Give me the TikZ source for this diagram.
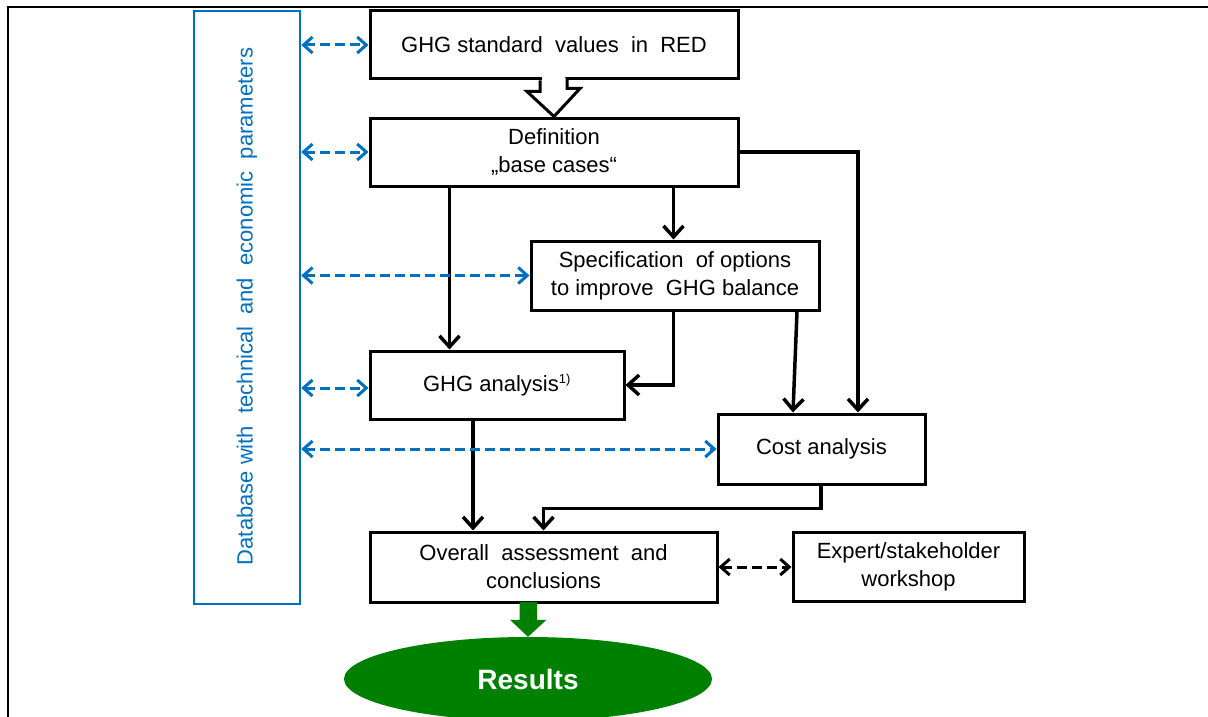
\documentclass[tikz,border=0pt]{standalone}
\usepackage{fontspec}
\setmainfont{Liberation Sans}
\usetikzlibrary{arrows.meta,shapes.geometric,calc}
\definecolor{dbblue}{RGB}{0,112,192}
\definecolor{resgreen}{RGB}{0,128,0}
\begin{document}
\begin{tikzpicture}[x=1pt,y=-1pt,
  box/.style={draw=black,line width=3pt,fill=white,align=center,inner sep=0pt,
    font=\fontsize{22}{28}\selectfont},
  arr/.style={line width=3.5pt,-{Straight Barb[length=11pt,width=20pt]}},
  bdash/.style={draw=dbblue,line width=3pt,dash pattern=on 10pt off 5pt,
    {Straight Barb[length=9pt,width=16pt]}-{Straight Barb[length=9pt,width=16pt]}},
  kdash/.style={draw=black,line width=3pt,dash pattern=on 10pt off 5pt,
    {Straight Barb[length=9pt,width=16pt]}-{Straight Barb[length=9pt,width=16pt]}}]
\useasboundingbox (0,0) rectangle (1208,717);
% outer frame
\draw[line width=2.5pt] (8,717) -- (8,7) -- (1208,7);

% database
\node[draw=dbblue,line width=2.5pt,minimum width=106pt,minimum height=593pt,inner sep=0pt] (db) at (247,307.5) {};
\node[rotate=90,text=dbblue,font=\fontsize{22}{26}\selectfont] (dbt) at (247,306.5)
  {Database with\ \ technical\ \ and\ \ economic\ \ parameters};

% boxes
\node[box,minimum width=368pt,minimum height=68pt] (std) at (554,45) {GHG standard\ \ values\ \ in\ \ RED};
\node[box,minimum width=368pt,minimum height=68pt] (def) at (554,152) {Definition\\„base cases“};
\node[box,minimum width=288pt,minimum height=69pt] (spec) at (675,275.5) {Specification\ \ of options\\to improve\ \ GHG balance};
\node[box,minimum width=254pt,minimum height=68pt] (ghg) at (497,385) {GHG analysis\textsuperscript{\fontsize{13}{13}\selectfont 1)}};
\node[box,minimum width=207pt,minimum height=70pt] (cost) at (821.5,449) {Cost analysis};
\node[box,minimum width=347pt,minimum height=70pt] (over) at (543.5,567) {Overall\ \ assessment\ \ and\\conclusions};
\node[box,minimum width=231pt,minimum height=69pt] (exp) at (908.5,566.5) {Expert/stakeholder\\workshop};
\node[ellipse,fill=resgreen,minimum width=368pt,minimum height=84pt,inner sep=0pt,
  text=white,font=\fontsize{28}{30}\selectfont\bfseries] (res) at (528,679) {Results};

% hollow arrow std -> def
\fill[white] ([xshift=-12.4pt,yshift=3pt]std.south) rectangle ([xshift=11.4pt,yshift=-3pt]std.south);
\draw[line width=3pt,fill=white] ([xshift=-14pt]std.south) -- ++(0,11) -- ++(-13,0) -- (def.north)
  -- ++(26,-28) -- ++(-13,0) -- ++(0,-11);

% green arrow over -> res
\fill[resgreen] ([xshift=-8.5pt,yshift=35pt]res.north) -- ++(0,18) -- ++(-9.5,0) -- (res.north)
  -- ++(18.5,-17) -- ++(-9.5,0) -- ++(0,-18) -- cycle;

% black connectors
\draw[arr] ([xshift=-104.5pt]def.south) -- ([xshift=-47.5pt]ghg.north);
\draw[arr] ([xshift=119.5pt]def.south) -- ([xshift=-1.5pt]spec.north);
\draw[arr] (def.east) -| ([xshift=36.5pt]cost.north);
\draw[arr] ([xshift=-1.5pt]spec.south) |- (ghg.east);
\draw[arr] ([xshift=122pt]spec.south) -- ([xshift=-28.5pt]cost.north);
\draw[arr] ([xshift=-24pt]ghg.south) -- ([xshift=-70.5pt]over.north);
\draw[arr] ([xshift=-0.5pt]cost.south) -- ++(0,23) -| (over.north);
\draw[kdash] (over.east) -- (exp.west |- over.east);

% blue dashed connectors
\draw[bdash] (db.east |- std.west) -- (std.west);
\draw[bdash] (db.east |- def.west) -- (def.west);
\draw[bdash] (db.east |- spec.west) -- (spec.west);
\draw[bdash] ([yshift=-3pt]db.east |- ghg.west) -- ([yshift=-3pt]ghg.west);
\draw[bdash] (db.east |- cost.west) -- (cost.west);
\end{tikzpicture}
\end{document}
